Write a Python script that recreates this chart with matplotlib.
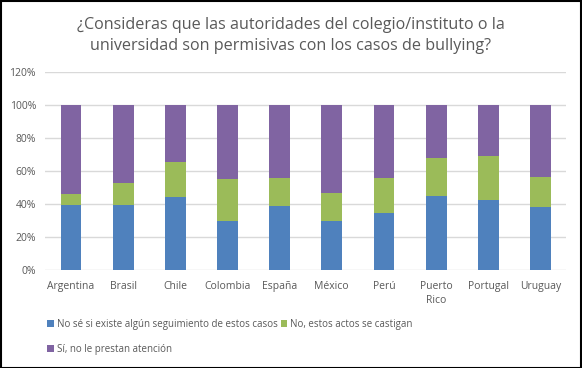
import matplotlib
matplotlib.use('Agg')
import matplotlib.pyplot as plt
import numpy as np

plt.rcParams['font.family'] = ['Open Sans', 'DejaVu Sans']

paises = ['Argentina', 'Brasil', 'Chile', 'Colombia', 'España', 'México',
          'Perú', 'Puerto\nRico', 'Portugal', 'Uruguay']
no_se = [39.4, 39.4, 44.2, 29.7, 38.8, 29.7, 34.5, 44.8, 42.4, 38.2]
castigan = [6.7, 13.3, 21.3, 25.5, 17.0, 17.0, 21.3, 23.1, 26.7, 18.2]
no_atencion = [53.9, 47.3, 34.5, 44.8, 44.2, 53.3, 44.2, 32.1, 30.9, 43.6]
series = ['No sé si existe algún seguimiento de estos casos',
          'No, estos actos se castigan',
          'Sí, no le prestan atención']
colores = ['#4F81BD', '#9BBB59', '#8064A2']
gris = '#595959'

fig = plt.figure(figsize=(5.82, 3.68), dpi=100)
ax = fig.add_axes([0.0773, 0.2663, 0.896, 0.538])

x = np.arange(len(paises))
w = 0.4
b1 = ax.bar(x, no_se, w, color=colores[0], label=series[0], zorder=3)
b2 = ax.bar(x, castigan, w, bottom=no_se, color=colores[1], label=series[1], zorder=3)
base = np.array(no_se) + np.array(castigan)
b3 = ax.bar(x, no_atencion, w, bottom=base, color=colores[2], label=series[2], zorder=3)

ax.set_xlim(-0.5, len(paises) - 0.5)
ax.set_ylim(0, 120)
ax.set_yticks(range(0, 121, 20))
ax.set_yticklabels(['%d%%' % v for v in range(0, 121, 20)])
ax.set_xticks(x)
ax.set_xticklabels(paises, linespacing=1.35)
ax.tick_params(length=0, labelsize=7.5, colors=gris)
ax.tick_params(axis='x', pad=8)
ax.tick_params(axis='y', pad=6.5)
ax.yaxis.grid(True, color='#D9D9D9', linewidth=1, zorder=0)
for s in ax.spines.values():
    s.set_visible(False)

fig.suptitle('¿Consideras que las autoridades del colegio/instituto o la\n'
             'universidad son permisivas con los casos de bullying?',
             y=0.955, fontsize=11.6, color=gris, linespacing=1.42)

leg = fig.legend([b1, b3, b2], [series[0], series[2], series[1]], ncol=2,
                 loc='lower left', bbox_to_anchor=(0.066, 0.012), frameon=False,
                 fontsize=7.0, handlelength=0.7, handleheight=0.7,
                 handletextpad=0.3, columnspacing=0.3, labelspacing=1.45,
                 labelcolor=gris)

fig.patches.append(plt.Rectangle((0.001, 0.001), 0.997, 0.996, transform=fig.transFigure,
                                 fill=False, edgecolor='black', linewidth=1.5))

plt.savefig('out.png', dpi=100)
plt.close()
